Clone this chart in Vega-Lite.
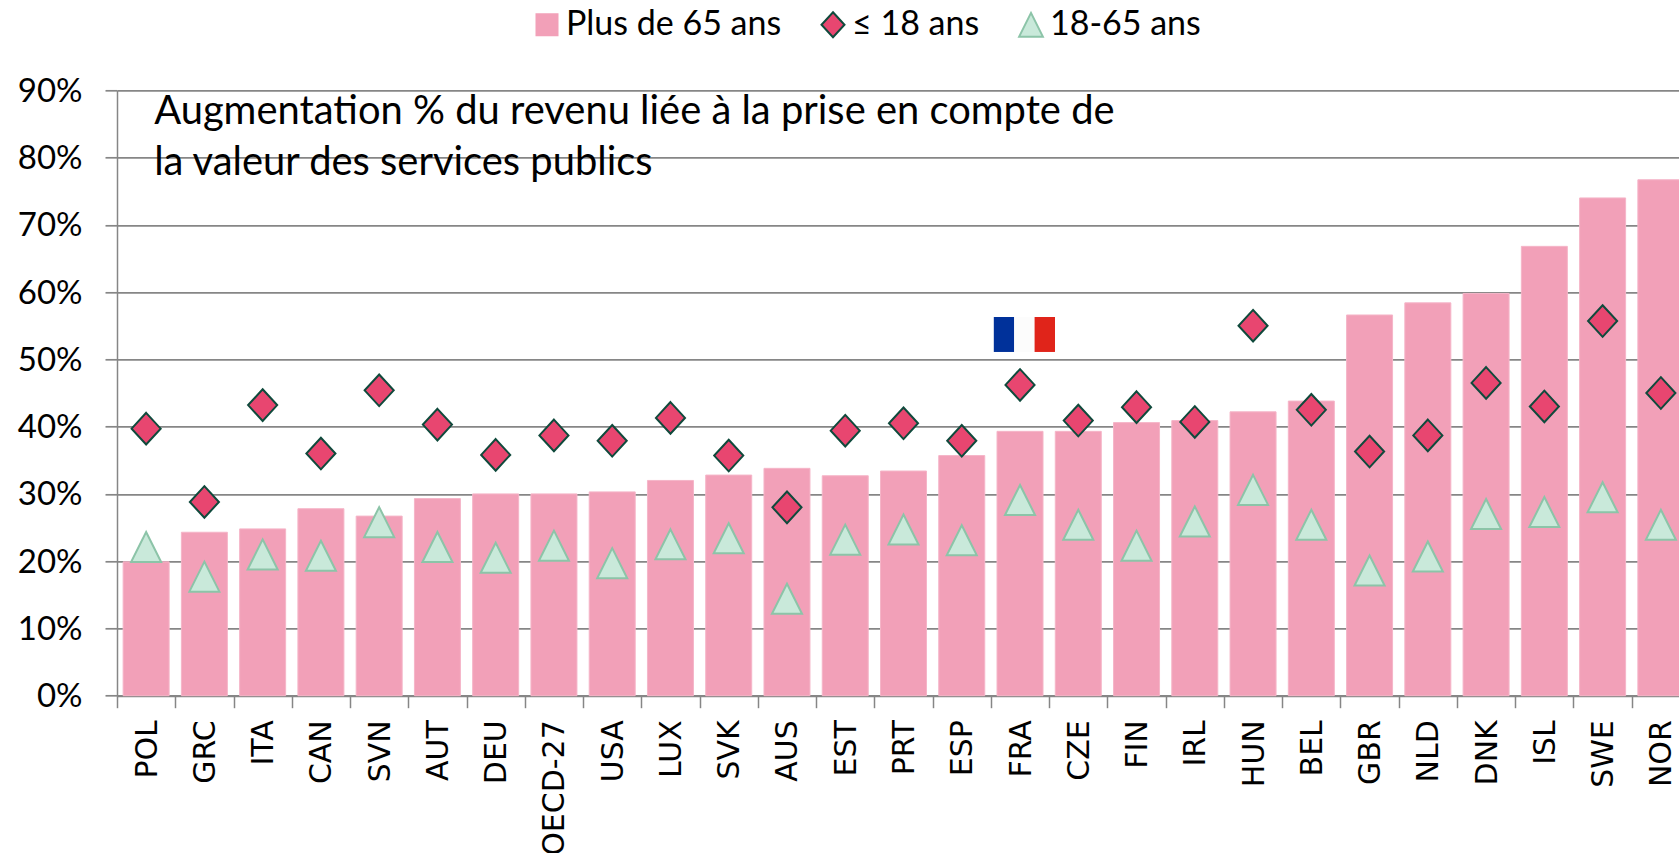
{"$schema":"https://vega.github.io/schema/vega-lite/v6.json","width":1562,"height":605.4,"autosize":{"type":"none"},"padding":{"left":117,"top":90.3,"right":0,"bottom":157.3},"background":"white",
"datasets":{"serie":[
{"p":"POL","s":"Plus de 65 ans","v":19.9},{"p":"GRC","s":"Plus de 65 ans","v":24.3},{"p":"ITA","s":"Plus de 65 ans","v":24.8},{"p":"CAN","s":"Plus de 65 ans","v":27.8},{"p":"SVN","s":"Plus de 65 ans","v":26.7},{"p":"AUT","s":"Plus de 65 ans","v":29.3},{"p":"DEU","s":"Plus de 65 ans","v":30},{"p":"OECD-27","s":"Plus de 65 ans","v":30},{"p":"USA","s":"Plus de 65 ans","v":30.3},{"p":"LUX","s":"Plus de 65 ans","v":32},{"p":"SVK","s":"Plus de 65 ans","v":32.8},{"p":"AUS","s":"Plus de 65 ans","v":33.8},{"p":"EST","s":"Plus de 65 ans","v":32.7},{"p":"PRT","s":"Plus de 65 ans","v":33.4},{"p":"ESP","s":"Plus de 65 ans","v":35.7},{"p":"FRA","s":"Plus de 65 ans","v":39.3},{"p":"CZE","s":"Plus de 65 ans","v":39.3},{"p":"FIN","s":"Plus de 65 ans","v":40.6},{"p":"IRL","s":"Plus de 65 ans","v":40.9},{"p":"HUN","s":"Plus de 65 ans","v":42.2},{"p":"BEL","s":"Plus de 65 ans","v":43.8},{"p":"GBR","s":"Plus de 65 ans","v":56.6},{"p":"NLD","s":"Plus de 65 ans","v":58.4},{"p":"DNK","s":"Plus de 65 ans","v":59.8},{"p":"ISL","s":"Plus de 65 ans","v":66.8},{"p":"SWE","s":"Plus de 65 ans","v":74},{"p":"NOR","s":"Plus de 65 ans","v":76.7},
{"p":"POL","s":"≤ 18 ans","v":39.7},{"p":"GRC","s":"≤ 18 ans","v":28.8},{"p":"ITA","s":"≤ 18 ans","v":43.2},{"p":"CAN","s":"≤ 18 ans","v":36},{"p":"SVN","s":"≤ 18 ans","v":45.4},{"p":"AUT","s":"≤ 18 ans","v":40.3},{"p":"DEU","s":"≤ 18 ans","v":35.8},{"p":"OECD-27","s":"≤ 18 ans","v":38.7},{"p":"USA","s":"≤ 18 ans","v":37.9},{"p":"LUX","s":"≤ 18 ans","v":41.3},{"p":"SVK","s":"≤ 18 ans","v":35.7},{"p":"AUS","s":"≤ 18 ans","v":28},{"p":"EST","s":"≤ 18 ans","v":39.4},{"p":"PRT","s":"≤ 18 ans","v":40.5},{"p":"ESP","s":"≤ 18 ans","v":37.9},{"p":"FRA","s":"≤ 18 ans","v":46.2},{"p":"CZE","s":"≤ 18 ans","v":40.9},{"p":"FIN","s":"≤ 18 ans","v":42.9},{"p":"IRL","s":"≤ 18 ans","v":40.7},{"p":"HUN","s":"≤ 18 ans","v":55},{"p":"BEL","s":"≤ 18 ans","v":42.5},{"p":"GBR","s":"≤ 18 ans","v":36.3},{"p":"NLD","s":"≤ 18 ans","v":38.7},{"p":"DNK","s":"≤ 18 ans","v":46.5},{"p":"ISL","s":"≤ 18 ans","v":43},{"p":"SWE","s":"≤ 18 ans","v":55.7},{"p":"NOR","s":"≤ 18 ans","v":45},
{"p":"POL","s":"18-65 ans","v":22.1},{"p":"GRC","s":"18-65 ans","v":17.7},{"p":"ITA","s":"18-65 ans","v":21},{"p":"CAN","s":"18-65 ans","v":20.8},{"p":"SVN","s":"18-65 ans","v":25.8},{"p":"AUT","s":"18-65 ans","v":22.1},{"p":"DEU","s":"18-65 ans","v":20.5},{"p":"OECD-27","s":"18-65 ans","v":22.3},{"p":"USA","s":"18-65 ans","v":19.7},{"p":"LUX","s":"18-65 ans","v":22.5},{"p":"SVK","s":"18-65 ans","v":23.4},{"p":"AUS","s":"18-65 ans","v":14.4},{"p":"EST","s":"18-65 ans","v":23.2},{"p":"PRT","s":"18-65 ans","v":24.7},{"p":"ESP","s":"18-65 ans","v":23.1},{"p":"FRA","s":"18-65 ans","v":29.1},{"p":"CZE","s":"18-65 ans","v":25.4},{"p":"FIN","s":"18-65 ans","v":22.3},{"p":"IRL","s":"18-65 ans","v":25.9},{"p":"HUN","s":"18-65 ans","v":30.6},{"p":"BEL","s":"18-65 ans","v":25.4},{"p":"GBR","s":"18-65 ans","v":18.6},{"p":"NLD","s":"18-65 ans","v":20.7},{"p":"DNK","s":"18-65 ans","v":27},{"p":"ISL","s":"18-65 ans","v":27.3},{"p":"SWE","s":"18-65 ans","v":29.5},{"p":"NOR","s":"18-65 ans","v":25.4}
],
"note":[{"p":"POL","v":85.0,"t":"Augmentation % du revenu liée à la prise en compte de"},{"p":"POL","v":77.4,"t":"la valeur des services publics"}],
"drapeau":[{"b":"bleu","a":15.05,"z":15.4,"bas":51.1,"haut":56.3},{"b":"blanc","a":15.4,"z":15.75,"bas":51.1,"haut":56.3},{"b":"rouge","a":15.75,"z":16.1,"bas":51.1,"haut":56.3}]},
"resolve":{"scale":{"x":"independent"},"axis":{"x":"independent"}},
"layer":[
{"data":{"name":"serie"},"transform":[{"filter":"datum.s === 'Plus de 65 ans'"}],"mark":{"type":"bar","width":46,"color":"#F2A0B8","stroke":"#F5B5C8","strokeWidth":1},
"encoding":{"x":{"field":"p","type":"nominal","sort":null,"scale":{"type":"band","range":[0,1573],"paddingInner":0,"paddingOuter":0},
"axis":{"title":null,"labelAngle":-90,"labelFont":"DejaVu Sans","labelFontSize":30,"labelColor":"#000","labelPadding":12,"labelOffset":1,"tickSize":12,"tickBand":"extent","tickColor":"#868686","tickWidth":1.5,"domainColor":"#868686","domainWidth":2,"labelOverlap":false,"labelLimit":300,"grid":false}},
"y":{"field":"v","type":"quantitative","scale":{"domain":[0,90]},
"axis":{"title":null,"values":[0,10,20,30,40,50,60,70,80,90],"labelExpr":"datum.value + '%'","labelFont":"Lato","labelFontSize":33,"labelColor":"#000","labelPadding":23,"labelOffset":1,"tickSize":12,"tickColor":"#868686","tickWidth":1.7,"domainColor":"#868686","domainWidth":1.5,"grid":true,"gridColor":"#868686","gridWidth":1.7}}}},
{"data":{"name":"serie"},"transform":[{"filter":"datum.s !== 'Plus de 65 ans'"}],"mark":{"type":"point","filled":true,"size":1000,"strokeWidth":2,"opacity":1},
"encoding":{"x":{"field":"p","type":"nominal","sort":null,"scale":{"type":"band","range":[0,1573],"paddingInner":0,"paddingOuter":0,"domain":["POL","GRC","ITA","CAN","SVN","AUT","DEU","OECD-27","USA","LUX","SVK","AUS","EST","PRT","ESP","FRA","CZE","FIN","IRL","HUN","BEL","GBR","NLD","DNK","ISL","SWE","NOR"]},"axis":null},
"y":{"field":"v","type":"quantitative"},
"shape":{"field":"s","type":"nominal","scale":{"domain":["Plus de 65 ans","≤ 18 ans","18-65 ans"],"range":["M-0.84,-0.84 H0.84 V0.84 H-0.84 Z","M0,-1 L0.92,0 L0,1 L-0.92,0 Z","M0,-0.95 L0.95,0.95 L-0.95,0.95 Z"]},"legend":{"title":null,"orient":"none","direction":"horizontal","columns":3,"legendX":413,"legendY":-82.5,"symbolSize":625,"symbolStrokeWidth":2,"labelFont":"Lato","labelFontSize":34,"labelColor":"#000","labelOffset":2,"columnPadding":34,"symbolOpacity":1,"labelLimit":400}},
"fill":{"field":"s","type":"nominal","scale":{"domain":["Plus de 65 ans","≤ 18 ans","18-65 ans"],"range":["#F2A0B8","#E84670","#C9E9DA"]},"legend":{"title":null}},
"stroke":{"field":"s","type":"nominal","scale":{"domain":["Plus de 65 ans","≤ 18 ans","18-65 ans"],"range":["#F2A0B8","#0F4A3C","#8CC4A8"]},"legend":{"title":null}}}},
{"data":{"name":"drapeau"},"mark":{"type":"rect"},
"encoding":{"x":{"field":"a","type":"quantitative","scale":{"domain":[0,27],"range":[0,1573]},"axis":null},"x2":{"field":"z"},"y":{"field":"bas","type":"quantitative"},"y2":{"field":"haut"},
"color":{"field":"b","type":"nominal","scale":{"domain":["bleu","blanc","rouge"],"range":["#00319A","#FCFCFC","#E0241A"]},"legend":null}}},
{"data":{"name":"note"},"mark":{"type":"text","align":"left","baseline":"alphabetic","dx":8,"font":"Lato","fontSize":39.9,"color":"#000"},
"encoding":{"x":{"field":"p","type":"nominal","sort":null,"scale":{"type":"band","range":[0,1573],"paddingInner":0,"paddingOuter":0,"domain":["POL","GRC","ITA","CAN","SVN","AUT","DEU","OECD-27","USA","LUX","SVK","AUS","EST","PRT","ESP","FRA","CZE","FIN","IRL","HUN","BEL","GBR","NLD","DNK","ISL","SWE","NOR"]},"axis":null},"y":{"field":"v","type":"quantitative"},"text":{"field":"t","type":"nominal"}}}
],
"config":{"view":{"stroke":null},"axis":{"labelFontWeight":"normal"}}}
